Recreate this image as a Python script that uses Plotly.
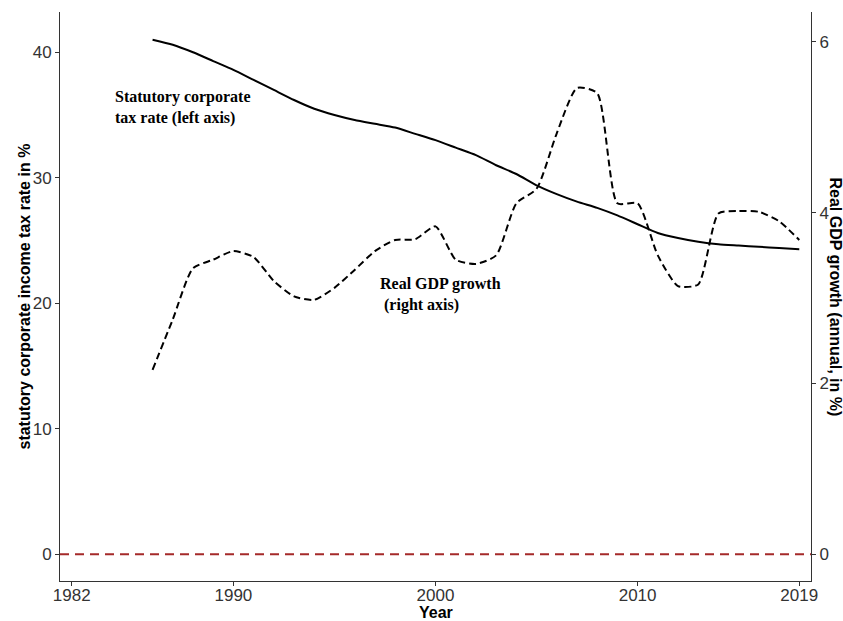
import plotly.graph_objects as go

# Annual series, 1986-2018
years = list(range(1986, 2019))

tax_rate = [41.0, 40.6, 40.0, 39.3, 38.6, 37.8, 37.0, 36.2, 35.5, 35.0,
            34.6, 34.3, 34.0, 33.5, 33.0, 32.4, 31.8, 31.0, 30.3, 29.4,
            28.7, 28.1, 27.6, 27.0, 26.3, 25.6, 25.2, 24.9, 24.7, 24.6,
            24.5, 24.4, 24.3]

gdp_growth = [2.16, 2.75, 3.35, 3.45, 3.55, 3.48, 3.20, 3.02, 2.98, 3.12,
              3.33, 3.55, 3.68, 3.69, 3.84, 3.45, 3.40, 3.50, 4.11, 4.28,
              4.93, 5.46, 5.40, 4.11, 4.11, 3.50, 3.14, 3.16, 3.99, 4.02,
              4.01, 3.90, 3.68]

x_tick_vals = [1982, 1990, 2000, 2010, 2018]
x_tick_text = ["1982", "1990", "2000", "2010", "2019"]
left_ticks = [0, 10, 20, 30, 40]
right_ticks = [0, 2, 4, 6]

sans = "Liberation Sans, Arial, Helvetica, sans-serif"
serif = "Liberation Serif, Times New Roman, serif"

fig = go.Figure()

fig.add_trace(go.Scatter(
    x=years, y=tax_rate, mode="lines",
    line=dict(color="black", width=2, shape="spline", smoothing=0.6),
    showlegend=False, yaxis="y"))

fig.add_trace(go.Scatter(
    x=years, y=gdp_growth, mode="lines",
    line=dict(color="black", width=2, dash="7px,4px", shape="spline", smoothing=0.6),
    showlegend=False, yaxis="y2"))

fig.add_hline(y=0, line=dict(color="#a52a2a", width=2, dash="9px,6px"), layer="above")

# In-plot labels for the two series
fig.add_annotation(
    x=1984.05, y=37.3, xref="x", yref="y", xanchor="left", yanchor="top",
    text="Statutory corporate<br>tax rate (left axis)", showarrow=False, align="left",
    font=dict(family=serif, size=16, color="black", weight="bold"))

fig.add_annotation(
    x=1997.16, y=22.4, xref="x", yref="y", xanchor="left", yanchor="top",
    text="Real GDP growth<br>\u00a0(right axis)", showarrow=False, align="left",
    font=dict(family=serif, size=16, color="black", weight="bold"))

# Axis titles
title_font = dict(family=sans, size=16, color="black", weight="bold")
fig.add_annotation(
    x=0.5, y=0, xref="paper", yref="paper", xanchor="center", yanchor="top",
    yshift=-21, text="Year", showarrow=False, font=title_font)
fig.add_annotation(
    x=0, y=0.5, xref="paper", yref="paper", xanchor="center", yanchor="middle",
    xshift=-36, textangle=-90, text="statutory corporate income tax rate in %",
    showarrow=False, font=title_font)
fig.add_annotation(
    x=1, y=0.5, xref="paper", yref="paper", xanchor="center", yanchor="middle",
    xshift=24, textangle=90, text="Real GDP growth (annual, in %)",
    showarrow=False, font=title_font)

axis_common = dict(
    showgrid=False, zeroline=False, showline=True, linecolor="#333333", linewidth=1,
    ticks="outside", ticklen=4, tickcolor="#333333", tickwidth=1, automargin=False,
    tickfont=dict(family=sans, size=17, color="#333333"))

fig.update_layout(
    width=843, height=621,
    margin=dict(l=60, r=32, t=12, b=40),
    paper_bgcolor="white", plot_bgcolor="white",
    xaxis=dict(range=[1981.42, 2018.58], tickvals=x_tick_vals, ticktext=x_tick_text,
               ticklabelstandoff=-5, **axis_common),
    yaxis=dict(range=[-2.13, 43.21], tickvals=left_ticks, **axis_common),
    yaxis2=dict(range=[-0.313, 6.35], tickvals=right_ticks, overlaying="y", side="right",
                anchor="x", **axis_common),
)

fig.write_html("out.html")
